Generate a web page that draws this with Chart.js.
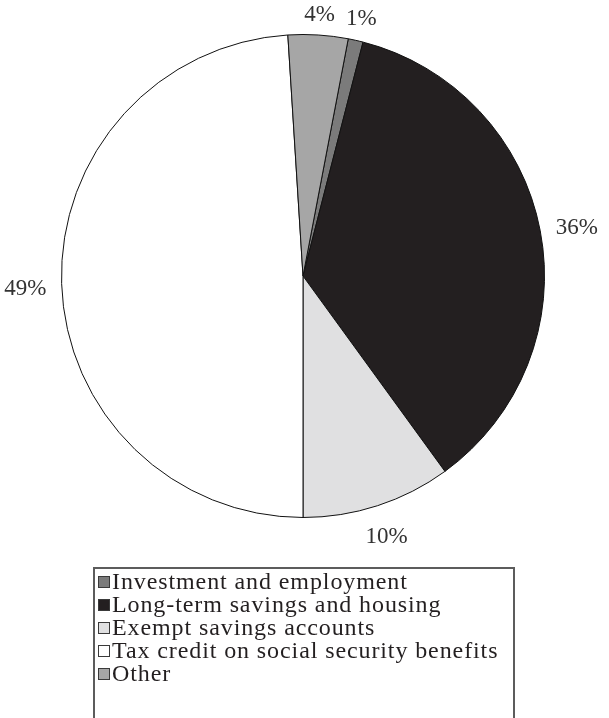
<!DOCTYPE html>
<html>
<head>
<meta charset="utf-8">
<script src="https://cdn.jsdelivr.net/npm/chart.js@4.4.1/dist/chart.umd.min.js"></script>
<style>
    html, body { margin: 0; padding: 0; background: #fff; }
    #wrap { position: relative; width: 609px; height: 718px; overflow: hidden; }
    #pieChart { position: absolute; left: 0; top: 0; }
    #legend {
        position: absolute; left: 93px; top: 567px; width: 418px; height: 200px;
        border: 2px solid #5c5c5c; box-sizing: content-box;
        font-family: "Liberation Serif", serif; font-size: 24px; letter-spacing: 0.9px;
        color: #231f20; padding-top: 1px;
    }
    .item { display: flex; align-items: center; height: 23px; line-height: 23px; white-space: nowrap; }
    .swatch { width: 10px; height: 10px; border: 1px solid #3a3a3a; margin: 0 2px 0 3px; flex: none; }
</style>
</head>
<body>
<div id="wrap">
    <canvas id="pieChart" width="609" height="718"></canvas>
    <div id="legend"></div>
</div>
<script>
const categories = [
    'Investment and employment',
    'Long-term savings and housing',
    'Exempt savings accounts',
    'Tax credit on social security benefits',
    'Other'
];
const shares = [1, 36, 10, 49, 4]; // percent
const sliceColors = ['#7b7b7b', '#231f20', '#e0e0e1', '#ffffff', '#a6a6a6'];

// percent labels just outside each slice
const pctLabels = {
    id: 'pctLabels',
    afterDatasetsDraw(chart) {
        const ctx = chart.ctx;
        const meta = chart.getDatasetMeta(0);
        ctx.save();
        ctx.font = '23px "Liberation Serif"';
        ctx.fillStyle = '#333';
        ctx.textAlign = 'center';
        ctx.textBaseline = 'middle';
        meta.data.forEach((arc, i) => {
            const p = arc.getProps(['x', 'y', 'startAngle', 'endAngle', 'outerRadius'], true);
            const mid = (p.startAngle + p.endAngle) / 2;
            const text = shares[i] + '%';
            const w = ctx.measureText(text).width;
            const d = p.outerRadius + 15 + Math.abs(Math.cos(mid)) * w / 2 + Math.abs(Math.sin(mid)) * 8;
            ctx.fillText(text, p.x + Math.cos(mid) * d, p.y + Math.sin(mid) * d + 4);
        });
        ctx.restore();
    }
};

const ctx = document.getElementById('pieChart').getContext('2d');
const pieChart = new Chart(ctx, {
    type: 'pie',
    data: {
        labels: categories,
        datasets: [{
            data: shares,
            backgroundColor: sliceColors,
            borderColor: '#111',
            borderWidth: 1
        }]
    },
    options: {
        responsive: false,
        animation: false,
        rotation: 10.8,
        layout: { padding: { left: 0, right: 3, top: 34, bottom: 200 } },
        plugins: {
            legend: { display: false },
            tooltip: { enabled: false }
        }
    },
    plugins: [pctLabels]
});

// Legend box below the pie
const legend = document.getElementById('legend');
categories.forEach((name, i) => {
    const row = document.createElement('div');
    row.className = 'item';
    row.innerHTML = `<span class="swatch" style="background:${sliceColors[i]}"></span><span>${name}</span>`;
    legend.appendChild(row);
});
</script>
</body>
</html>
